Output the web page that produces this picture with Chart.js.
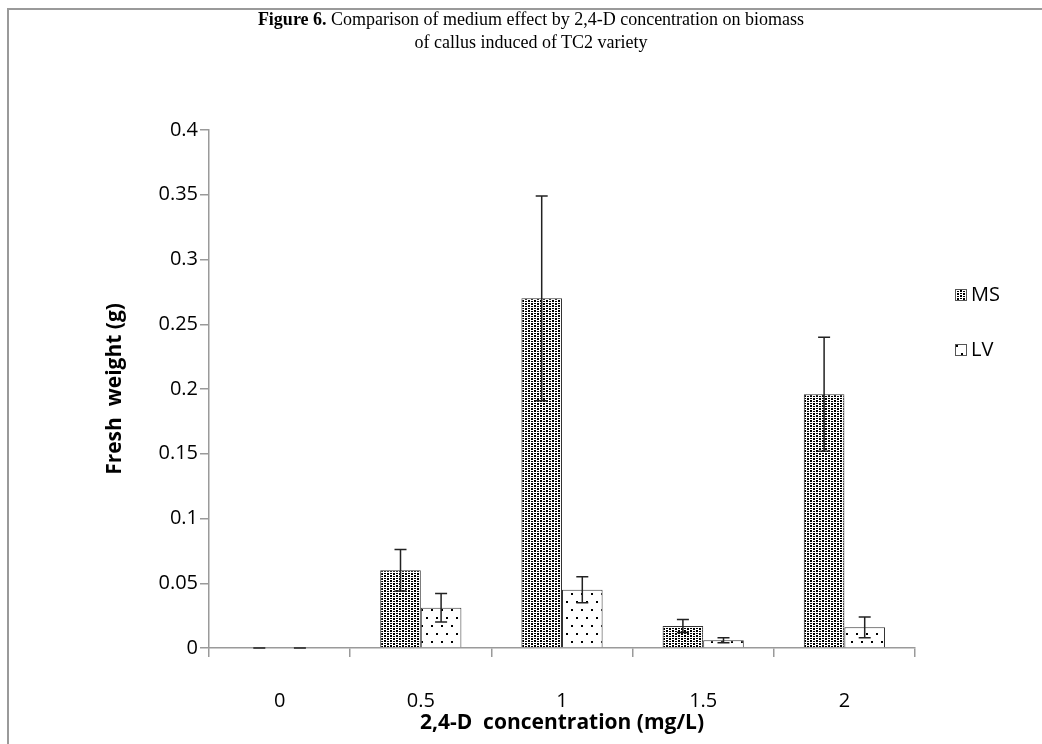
<!DOCTYPE html>
<html lang="en">
<head>
<meta charset="UTF-8">
<title>Figure 6</title>
<script src="https://cdn.jsdelivr.net/npm/chart.js"></script>
<style>
  body { margin: 0; background: #fff; }
  #wrap { position: relative; width: 1042px; height: 744px; overflow: hidden; }
  #frame { position: absolute; left: 7px; top: 8px; right: -10px; bottom: -10px;
           border-left: 2px solid #9a9a9a; border-top: 2px solid #9a9a9a; }
  #title { position: absolute; left: 0; width: 1062px; top: 8px; text-align: center;
           font-family: "Liberation Serif", "Times New Roman", serif; font-size: 18px; line-height: 23px; color: #000; }
  canvas { position: absolute; left: 0; top: 0; }
</style>
</head>
<body>
<div id="wrap">
  <canvas id="chart" width="1042" height="744"></canvas>
  <div id="frame"></div>
  <div id="title"><b>Figure 6.</b> Comparison of medium effect by 2,4-D concentration on biomass<br>of callus induced of TC2 variety</div>
</div>

<script>
    // data
    const concentrations = ['0', '0.5', '1', '1.5', '2'];
    const msWeight = [0, 0.060, 0.270, 0.017, 0.196];
    const msError  = [0, 0.016, 0.079, 0.005, 0.044];
    const lvWeight = [0, 0.031, 0.045, 0.006, 0.016];
    const lvError  = [0, 0.011, 0.010, 0.002, 0.008];
    const yTicks = [0, 0.05, 0.1, 0.15, 0.2, 0.25, 0.3, 0.35, 0.4];

    const fam = '"Open Sans", Lato, sans-serif';
    const tickFont = { family: fam, size: 20 };
    const titleFont = { family: fam, size: 21, weight: 'bold' };
    const axisColor = '#9a9a9a';

    // hatch fills like the printed figure
    function makePattern(kind) {
        const c = document.createElement('canvas');
        if (kind === 'dense') { c.width = 6; c.height = 5; }
        else { c.width = 10; c.height = 16; }
        const g = c.getContext('2d');
        g.fillStyle = '#fff';
        g.fillRect(0, 0, c.width, c.height);
        g.fillStyle = '#000';
        if (kind === 'dense') {
            g.fillRect(0, 0, 2, 2);
            g.fillRect(0, 3, 2, 1);
            g.fillRect(3, 1, 2, 1);
            g.fillRect(3, 3, 2, 2);
        } else {
            g.fillRect(1, 1, 2, 2);
            g.fillRect(6, 9, 2, 2);
        }
        return g.createPattern(c, 'repeat');
    }

    const ctx = document.getElementById('chart').getContext('2d');
    const msFill = makePattern('dense');
    const lvFill = makePattern('sparse');
    const errors = [msError, lvError];

    const errorBars = {
        id: 'errorBars',
        afterDatasetsDraw(chart) {
            const c = chart.ctx, y = chart.scales.y;
            c.save();
            c.strokeStyle = '#222';
            c.lineWidth = 1.5;
            chart.data.datasets.forEach((ds, i) => {
                chart.getDatasetMeta(i).data.forEach((bar, j) => {
                    const v = ds.data[j], e = errors[i][j];
                    const top = y.getPixelForValue(v + e);
                    const bot = y.getPixelForValue(Math.max(v - e, 0));
                    c.beginPath();
                    c.moveTo(bar.x, top); c.lineTo(bar.x, bot);
                    c.moveTo(bar.x - 6, top); c.lineTo(bar.x + 6, top);
                    c.moveTo(bar.x - 6, bot); c.lineTo(bar.x + 6, bot);
                    c.stroke();
                });
            });
            c.restore();
        }
    };

    const sideLegend = {
        id: 'sideLegend',
        afterDraw(chart) {
            const c = chart.ctx;
            c.save();
            c.font = '20px ' + fam;
            c.textBaseline = 'middle';
            chart.data.datasets.forEach((ds, i) => {
                const yy = 295 + i * 55;
                c.fillStyle = ds.backgroundColor;
                c.fillRect(955, yy - 6, 12, 12);
                c.strokeStyle = '#555';
                c.lineWidth = 1;
                c.strokeRect(955.5, yy - 5.5, 11, 11);
                c.fillStyle = '#000';
                c.fillText(ds.label, 971, yy);
            });
            c.restore();
        }
    };

    new Chart(ctx, {
        type: 'bar',
        data: {
            labels: concentrations,
            datasets: [
                { label: 'MS', data: msWeight, backgroundColor: msFill, borderColor: '#333', borderWidth: 1,
                  categoryPercentage: 0.575, barPercentage: 1 },
                { label: 'LV', data: lvWeight, backgroundColor: lvFill, borderColor: '#333', borderWidth: 1,
                  categoryPercentage: 0.575, barPercentage: 1 }
            ]
        },
        options: {
            responsive: false,
            animation: false,
            layout: { padding: { left: 100, right: 127, top: 130, bottom: 0 } },
            plugins: { legend: { display: false }, tooltip: { enabled: false } },
            scales: {
                x: {
                    grid: { drawOnChartArea: false, color: axisColor, tickLength: 9, lineWidth: 1.5 },
                    border: { color: axisColor, width: 1.5 },
                    ticks: { font: tickFont, color: '#000', padding: 32 },
                    title: { display: true, text: '2,4-D  concentration (mg/L)', color: '#000',
                             font: titleFont, padding: { top: 0, bottom: 8 } },
                    afterFit(s) { s.height = 96; }
                },
                y: {
                    min: 0, max: 0.4,
                    afterBuildTicks(s) { s.ticks = yTicks.map(v => ({ value: v })); },
                    grid: { drawOnChartArea: false, color: axisColor, tickLength: 9, lineWidth: 1.5 },
                    border: { color: axisColor, width: 1.5 },
                    ticks: { font: tickFont, color: '#000', padding: 2, callback: v => String(v) },
                    title: { display: true, text: 'Fresh  weight (g)', color: '#000',
                             font: titleFont, padding: { top: 2, bottom: 0 } },
                    afterFit(s) { s.width = 109; }
                }
            }
        },
        plugins: [errorBars, sideLegend]
    });
</script>
</body>
</html>
